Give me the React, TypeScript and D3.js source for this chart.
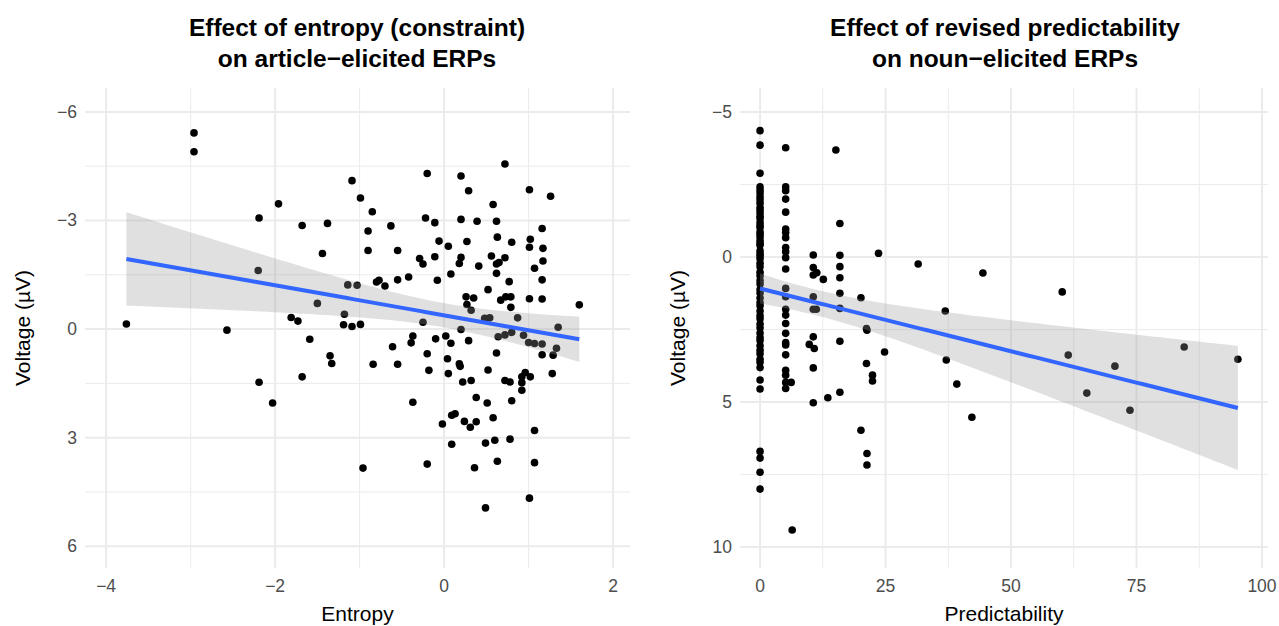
import React from "react";
import * as d3 from "d3";

const entropyX = [-2.96,-2.96,-3.76,-2.57,-2.19,-1.96,-2.2,-2.19,-2.03,-1.68,-1.38,-1.44,-1.09,-0.99,-0.85,-0.9,-0.9,-0.63,-0.55,-0.29,-0.25,-0.55,-0.42,-0.77,-0.8,-0.7,-1.14,-1.03,-1.5,-1.18,-1.81,-1.73,-1.19,-1.09,-0.99,-1.59,-1.35,-1.33,-1.68,-0.84,-0.61,-0.55,-0.37,-0.39,-0.25,-0.2,-0.18,-0.37,-0.96,-0.2,-0.2,-0.22,0.72,0.2,0.29,1.01,1.26,0.58,-0.11,0.2,0.39,0.62,1.16,-0.06,0.05,0.27,0.63,0.8,1.02,1.01,1.17,-0.11,0.2,0.18,0.56,0.72,0.41,0.62,0.65,0.62,1.07,1.17,0.08,-0.08,0.77,0.52,1.16,0.26,0.35,0.27,0.32,0.67,0.73,0.79,0.79,1.01,1.16,1.6,0.48,0.54,0.87,1.35,0.2,-0.1,0.02,0.08,0.29,0.64,0.72,0.8,0.94,1.0,1.07,1.16,1.33,1.29,1.16,0.62,0.04,0.18,0.19,0.05,0.52,0.22,0.32,0.72,0.78,0.92,0.96,1.02,0.92,0.92,1.28,0.38,0.51,0.8,-0.02,0.09,0.13,0.24,0.38,0.31,0.58,1.07,0.09,0.49,0.6,0.78,0.36,0.63,1.07,1.01,0.49];
const entropyY = [-5.42,-4.9,-0.14,0.03,-3.07,-3.46,-1.62,1.47,2.04,-2.86,-2.92,-2.09,-4.1,-3.62,-3.24,-2.71,-2.17,-2.85,-2.17,-1.95,-1.8,-1.36,-1.44,-1.35,-1.3,-1.19,-1.22,-1.21,-0.71,-0.41,-0.32,-0.22,-0.12,-0.07,-0.13,0.28,0.74,0.95,1.32,0.97,0.49,0.97,0.19,0.38,-0.19,0.68,1.14,2.02,3.84,3.73,-4.3,-3.07,-4.56,-4.23,-3.82,-3.85,-3.67,-3.44,-2.94,-3.03,-2.98,-2.98,-2.78,-2.43,-2.29,-2.42,-2.54,-2.4,-2.48,-2.26,-2.23,-2.0,-1.98,-1.81,-2.02,-1.97,-1.74,-1.8,-1.84,-1.54,-1.68,-1.88,-1.52,-1.35,-1.31,-1.09,-1.36,-0.89,-0.86,-0.68,-0.52,-0.8,-0.89,-0.89,-0.6,-0.84,-0.83,-0.67,-0.3,-0.31,-0.31,-0.05,0.01,0.27,0.19,0.39,0.32,0.21,0.16,0.09,0.17,0.37,0.4,0.41,0.53,0.72,0.71,0.66,0.82,0.96,1.03,1.23,1.13,1.46,1.42,1.42,1.46,1.32,1.2,1.32,1.48,1.69,1.23,1.89,2.04,1.98,2.62,2.38,2.34,2.55,2.56,2.71,2.45,2.8,3.18,3.15,3.07,3.04,3.83,3.65,3.69,4.67,4.94];

const predX = [0,0,0,0,0,0,0,0,0,0,0,0,0,0,0,0,0,0,0,0,0,0,0,0,0,0,0,0,0,0,0,0,0,0,0,0,0,0,0,0,0,0,0,0,0,0,0,0,0,0,0,0,0,0,0,0,
5.1,5.1,5.1,5.1,5.1,5.1,5.1,5.1,5.1,5.1,5.1,5.1,5.1,5.1,5.1,5.1,5.1,5.1,5.1,5.1,5.1,5.1,5.1,5.1,5.1,6.2,6.4,
10.6,10.6,10.6,10.6,10.6,11.3,12.6,11.2,10.6,9.8,10.8,10.6,10.6,13.5,
15.1,15.9,15.9,15.9,15.9,15.9,15.9,15.9,15.9,20.1,23.6,21.2,21.3,24.8,21.2,22.4,22.4,20.1,21.3,21.3,
31.5,37.1,36.9,39.2,44.4,42.2,60.2,61.4,70.7,65.1,73.7,84.5,95.2];
const predY = [-4.36,-3.86,-2.89,-2.42,-2.31,-2.21,-2.08,-1.98,-1.86,-1.71,-1.62,-1.52,-1.41,-1.33,-1.19,-1.09,-1.02,-0.87,-0.79,-0.69,-0.57,-0.48,-0.41,-0.22,-0.12,-0.04,0.06,0.21,0.33,0.52,0.64,0.81,0.93,1.12,1.24,1.41,1.57,1.68,1.86,2.02,2.13,2.31,2.44,2.62,2.77,2.88,3.06,3.21,3.33,3.52,3.63,3.81,4.24,6.7,6.93,7.42,
-3.77,-2.42,-2.29,-2.0,-1.55,-0.97,-0.85,-0.67,-0.33,-0.18,0.02,0.41,1.08,1.37,1.8,2.0,2.29,2.63,2.95,3.03,3.37,3.9,4.07,4.32,4.53,4.32,9.41,
-0.07,0.36,0.62,1.8,1.37,0.54,0.77,1.8,2.75,3.01,3.15,3.82,5.02,4.85,
-3.69,-1.16,-0.06,0.33,0.71,1.25,1.77,2.9,4.66,1.4,-0.13,2.46,2.52,3.27,3.67,4.07,4.27,5.97,6.77,7.17,
0.24,3.55,1.86,4.38,0.55,5.52,1.2,3.38,3.76,4.69,5.28,3.1,3.52];
const predX0Extra = [0, 0];
const predY0Extra = [4.55, 8.0];

const leftXTicks = [-4, -2, 0, 2];
const leftYTicks = [-6, -3, 0, 3, 6];
const rightXTicks = [0, 25, 50, 75, 100];
const rightYTicks = [-5, 0, 5, 10];

function fitLm(xs: number[], ys: number[], x0: number, x1: number) {
  const n = xs.length;
  const mx = d3.mean(xs)!, my = d3.mean(ys)!;
  let sxx = 0, sxy = 0;
  xs.forEach((x, i) => { sxx += (x - mx) ** 2; sxy += (x - mx) * (ys[i] - my); });
  const b = sxy / sxx, a = my - b * mx;
  let sse = 0;
  xs.forEach((x, i) => { sse += (ys[i] - a - b * x) ** 2; });
  const s = Math.sqrt(sse / (n - 2));
  const t = 1.975;
  return d3.range(0, 81).map(k => {
    const x = x0 + (x1 - x0) * k / 80;
    const f = a + b * x;
    const se = s * Math.sqrt(1 / n + (x - mx) ** 2 / sxx);
    return { x, f, lo: f - t * se, hi: f + t * se };
  });
}

const FONT = "Liberation Sans, Arial, sans-serif";

function Panel(props: any) {
  const { left, right, top, bottom, xDom, yDom, xTicks, yTicks, xs, ys, title, xLabel, titleX } = props;
  const x = d3.scaleLinear().domain(xDom).range([left, right]);
  const y = d3.scaleLinear().domain(yDom).range([top, bottom]);
  const xMinor = xTicks.slice(0, -1).map((t: number, i: number) => (t + xTicks[i + 1]) / 2);
  const yMinor = yTicks.slice(0, -1).map((t: number, i: number) => (t + yTicks[i + 1]) / 2);
  const fit = fitLm(xs, ys, d3.min(xs)!, d3.max(xs)!);
  const area = d3.area<any>().x(d => x(d.x)).y0(d => y(d.lo)).y1(d => y(d.hi));
  const line = d3.line<any>().x(d => x(d.x)).y(d => y(d.f));
  const fmt = (v: number) => (v < 0 ? "\u2212" + Math.abs(v) : String(v));
  return (
    <g fontFamily={FONT}>
      {xMinor.map((t: number) => <line key={"xm" + t} x1={x(t)} x2={x(t)} y1={top} y2={bottom} stroke="#ebebeb" strokeWidth={1} />)}
      {yMinor.map((t: number) => <line key={"ym" + t} x1={left} x2={right} y1={y(t)} y2={y(t)} stroke="#ebebeb" strokeWidth={1} />)}
      {xTicks.map((t: number) => <line key={"x" + t} x1={x(t)} x2={x(t)} y1={top} y2={bottom} stroke="#ebebeb" strokeWidth={2} />)}
      {yTicks.map((t: number) => <line key={"y" + t} x1={left} x2={right} y1={y(t)} y2={y(t)} stroke="#ebebeb" strokeWidth={2} />)}
      {xs.map((v: number, i: number) => <circle key={i} cx={x(v)} cy={y(ys[i])} r={3.8} fill="#000" />)}
      <path d={area(fit)!} fill="#999" fillOpacity={0.3} />
      <path d={line(fit)!} fill="none" stroke="#3366FF" strokeWidth={4} />
      {xTicks.map((t: number) => <text key={"xt" + t} x={x(t)} y={bottom + 24} textAnchor="middle" fontSize={17.5} fill="#4d4d4d">{fmt(t)}</text>)}
      {yTicks.map((t: number) => <text key={"yt" + t} x={left - 8} y={y(t) + 6} textAnchor="end" fontSize={17.5} fill="#4d4d4d">{fmt(t)}</text>)}
      <text x={(left + right) / 2} y={bottom + 53} textAnchor="middle" fontSize={21} fill="#000">{xLabel}</text>
      <text transform={`translate(${left - 55},${(top + bottom) / 2}) rotate(-90)`} textAnchor="middle" fontSize={21} fill="#000">Voltage (µV)</text>
      <text x={titleX} y={36} textAnchor="middle" fontSize={24.5} fontWeight="bold" fill="#000">{title[0]}</text>
      <text x={titleX} y={67} textAnchor="middle" fontSize={24.5} fontWeight="bold" fill="#000">{title[1]}</text>
    </g>
  );
}

export default function App() {
  return (
    <svg width={1279} height={626} style={{ position: "absolute", left: 0, top: 0, background: "#fff" }}>
      <Panel left={85} right={630} top={88} bottom={568} xDom={[-4.25, 2.2]} yDom={[-6.66, 6.6]}
        xTicks={leftXTicks} yTicks={leftYTicks} xs={entropyX} ys={entropyY}
        title={["Effect of entropy (constraint)", "on article\u2212elicited ERPs"]} xLabel="Entropy" titleX={357} />
      <Panel left={740} right={1268} top={88} bottom={568} xDom={[-4, 101.2]} yDom={[-5.83, 10.72]}
        xTicks={rightXTicks} yTicks={rightYTicks} xs={predX.concat(predX0Extra)} ys={predY.concat(predY0Extra)}
        title={["Effect of revised predictability", "on noun\u2212elicited ERPs"]} xLabel="Predictability" titleX={1005} />
    </svg>
  );
}
